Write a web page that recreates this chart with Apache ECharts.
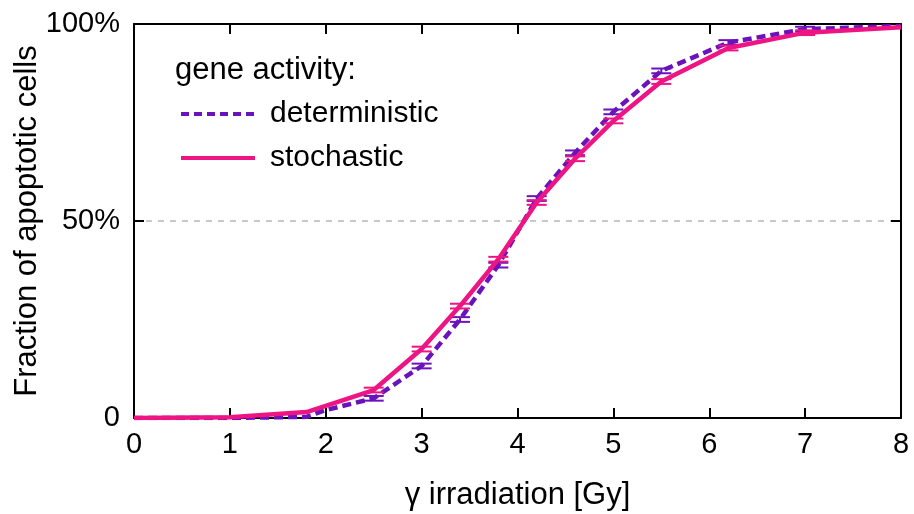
<!DOCTYPE html>
<html>
<head>
<meta charset="utf-8">
<script src="https://cdn.jsdelivr.net/npm/echarts@6/dist/echarts.min.js"></script>
<style>html,body{margin:0;padding:0;background:#fff}#c{width:914px;height:514px}</style>
</head>
<body>
<div id="c"></div>
<script>
// Data
var xDet = [0, 1, 1.8, 2, 2.5, 3, 3.4, 3.8, 4.2, 4.6, 5, 5.5, 6.2, 7, 8];
var yDet = [0, 0, 0.3, 2.0, 5.0, 13.2, 25.0, 38.8, 55.7, 67.3, 77.7, 88.1, 95.3, 98.7, 99.5];
var xSto = [0, 1, 1.8, 2.5, 3, 3.4, 3.8, 4.2, 4.6, 5, 5.5, 6.2, 7, 8];
var ySto = [0, 0.2, 1.5, 7.1, 17.5, 28.4, 40.3, 54.7, 65.8, 75.4, 85.4, 93.9, 97.8, 99.2];
var errXDet = [2.5, 3, 3.4, 3.8, 4.2, 4.6, 5, 5.5, 6.2, 7];
var errYDet = [5.0, 13.2, 25.0, 38.8, 55.7, 67.3, 77.7, 88.1, 95.3, 98.7];
var errXSto = [2.5, 3, 3.4, 3.8, 4.2, 4.6, 5, 5.5, 6.2, 7];
var errYSto = [7.1, 17.5, 28.4, 40.3, 54.7, 65.8, 75.4, 85.4, 93.9, 97.8];
var errSize = 0.6;
var xTicks = [0, 1, 2, 3, 4, 5, 6, 7, 8];
var yTicks = [0, 50, 100];

var PINK = '#ee1483';
var PURPLE = '#6a12bc';
var FONT = 'Liberation Sans';

function pairs(xs, ys) { return xs.map(function (x, i) { return [x, ys[i]]; }); }
function errData(xs, ys) { return xs.map(function (x, i) { return [x, ys[i], errSize]; }); }

function errRender(color) {
  return function (params, api) {
    var x = api.value(0), y = api.value(1), e = api.value(2);
    var lo = api.coord([x, y - e]);
    var hi = api.coord([x, y + e]);
    var hw = 10;
    var st = { stroke: color, lineWidth: 2 };
    return {
      type: 'group',
      children: [
        { type: 'line', shape: { x1: lo[0], y1: lo[1], x2: hi[0], y2: hi[1] }, style: st },
        { type: 'line', shape: { x1: lo[0] - hw, y1: lo[1], x2: lo[0] + hw, y2: lo[1] }, style: st },
        { type: 'line', shape: { x1: hi[0] - hw, y1: hi[1], x2: hi[0] + hw, y2: hi[1] }, style: st }
      ]
    };
  };
}

var chart = echarts.init(document.getElementById('c'), null, { renderer: 'canvas' });
function axLine() { return { show: true, onZero: false, lineStyle: { color: '#000', width: 2 } }; }
function axTick() { return { show: true, inside: true, length: 10, lineStyle: { color: '#000', width: 2 } }; }
chart.setOption({
  animation: false,
  backgroundColor: '#fff',
  textStyle: { fontFamily: FONT },
  title: {
    text: 'gene activity:', left: 170, top: 50,
    textStyle: { fontFamily: FONT, fontSize: 31, fontWeight: 'normal', color: '#000' }
  },
  legend: {
    orient: 'vertical', left: 174, top: 94, itemWidth: 74, itemHeight: 22, itemGap: 14,
    data: [
      { name: 'deterministic', lineStyle: { color: PURPLE, width: 4, type: [8, 5] } },
      { name: 'stochastic', lineStyle: { color: PINK, width: 4, type: 'solid' } }
    ],
    itemStyle: { opacity: 0 },
    textStyle: { fontFamily: FONT, fontSize: 30, color: '#000', padding: [0, 0, 0, 10] }
  },
  grid: { left: 134, right: 13, top: 24, bottom: 96, containLabel: false, outerBoundsMode: 'none' },
  xAxis: [{
    type: 'value', min: 0, max: 8, interval: 1,
    name: 'γ irradiation [Gy]', nameLocation: 'middle', nameGap: 62, nameMoveOverlap: false,
    nameTextStyle: { fontFamily: FONT, fontSize: 31, color: '#000' },
    axisLine: axLine(), axisTick: axTick(),
    axisLabel: { fontFamily: FONT, fontSize: 29, color: '#000', margin: 12,
      formatter: function (v) { return xTicks.indexOf(v) >= 0 ? String(v) : ''; } },
    splitLine: { show: false }
  }, {
    type: 'value', min: 0, max: 8, interval: 1, position: 'top',
    axisLine: axLine(), axisTick: axTick(),
    axisLabel: { show: false }, splitLine: { show: false }
  }],
  yAxis: [{
    type: 'value', min: 0, max: 100, interval: 50,
    name: 'Fraction of apoptotic cells', nameLocation: 'middle', nameGap: 91, nameMoveOverlap: false,
    nameTextStyle: { fontFamily: FONT, fontSize: 31, color: '#000' },
    axisLine: axLine(), axisTick: axTick(),
    axisLabel: { fontFamily: FONT, fontSize: 29, color: '#000', margin: 14,
      formatter: function (v) { return yTicks.indexOf(v) < 0 ? '' : (v === 0 ? '0' : v + '%'); } },
    splitLine: { show: true, lineStyle: { color: '#c8c8c8', width: 2, type: [6, 6] } }
  }, {
    type: 'value', min: 0, max: 100, interval: 50, position: 'right',
    axisLine: axLine(), axisTick: axTick(),
    axisLabel: { show: false }, splitLine: { show: false }
  }],
  series: [
    {
      name: 'deterministic', type: 'line', data: pairs(xDet, yDet), symbol: 'none', z: 3,
      color: PURPLE,
      lineStyle: { color: PURPLE, width: 4.5, type: [9, 5] }
    },
    {
      name: 'stochastic', type: 'line', data: pairs(xSto, ySto), symbol: 'none', z: 4,
      color: PINK,
      lineStyle: { color: PINK, width: 4.5 }
    },
    { type: 'custom', renderItem: errRender(PURPLE), data: errData(errXDet, errYDet), z: 3, silent: true },
    { type: 'custom', renderItem: errRender(PINK), data: errData(errXSto, errYSto), z: 4, silent: true }
  ]
});
</script>
</body>
</html>
